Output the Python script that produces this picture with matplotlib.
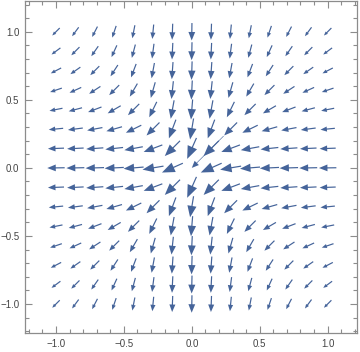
import numpy as np
import matplotlib.pyplot as plt
from matplotlib.ticker import MultipleLocator

# grid of sample points (15 x 15, as in the picture)
grid = np.linspace(-1, 1, 15)
# strength of the pull at each grid coordinate
# (u depends on the row's y, v on the column's x)
pull = [1.0, 1.35, 1.93, 2.96, 5.08, 10.4, 27.7, 62.3,
        27.7, 10.4, 5.08, 2.96, 1.93, 1.35, 1.0]
tick_vals = [-1.0, -0.5, 0.0, 0.5, 1.0]
tick_labels = ['\u22121.0', '\u22120.5', '0.0', '0.5', '1.0']

color = '#45649a'
px = 1 / 136.0   # one pixel in data units

fig = plt.figure(figsize=(3.6, 3.52), dpi=100)
ax = fig.add_axes([25 / 360, 19 / 352, 332 / 360, 332 / 352])

for i, y in enumerate(grid):
    for j, x in enumerate(grid):
        u = -pull[i]
        v = -pull[j]
        m = np.hypot(u, v)
        dx, dy = u / m, v / m
        if i == 7 and j == 7:
            # the arrow at the origin: long thin line ending at the origin
            L = 45 * px
            x0, y0 = x - dx * L, y - dy * L
            ax.arrow(x0, y0, dx * L, dy * L, width=0.6 * px,
                     head_length=7 * px, head_width=6 * px,
                     length_includes_head=True, color=color, lw=0)
            continue
        L = (10.6 + 1.65 * (np.log(pull[i]) + np.log(pull[j]))) * px
        hl = 0.38 * L * np.sqrt(L / (10.6 * px))
        hw = 0.8 * hl
        x0 = x - dx * L / 2
        y0 = y - dy * L / 2
        ax.arrow(x0, y0, dx * L, dy * L, width=1.2 * px,
                 head_length=hl, head_width=hw,
                 length_includes_head=True, color=color, lw=0)

ax.set_xlim(-1.228, 1.216)
ax.set_ylim(-1.213, 1.226)
ax.set_aspect('auto')

ax.set_xticks(tick_vals)
ax.set_xticklabels(tick_labels)
ax.set_yticks(tick_vals)
ax.set_yticklabels(tick_labels)
ax.xaxis.set_minor_locator(MultipleLocator(0.1))
ax.yaxis.set_minor_locator(MultipleLocator(0.1))
ax.tick_params(which='both', direction='in', top=True, right=True,
               color='#8c8c8c', width=0.8)
ax.tick_params(which='major', length=5, labelsize=7, labelcolor='#444444', pad=4)
ax.tick_params(which='minor', length=2.8)
for lab in ax.get_xticklabels() + ax.get_yticklabels():
    lab.set_family('Liberation Sans')
for s in ax.spines.values():
    s.set_color('#8c8c8c')
    s.set_linewidth(0.9)

fig.savefig('out.png', dpi=100)
